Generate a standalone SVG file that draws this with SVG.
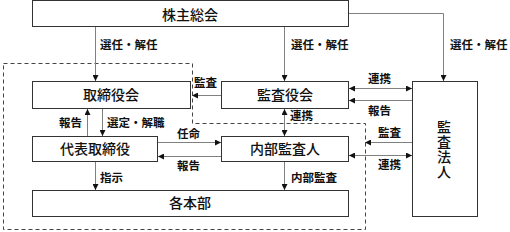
<svg xmlns="http://www.w3.org/2000/svg" width="510" height="232" viewBox="0 0 510 232">
<defs>
<style>
.box{fill:#fff;stroke:#333;stroke-width:1}
.bl{font-family:"Noto Sans CJK JP","Noto Sans CJK SC",sans-serif;font-size:14px;font-weight:500;fill:#111;text-anchor:middle}
.sl{font-family:"Noto Sans CJK JP","Noto Sans CJK SC",sans-serif;font-size:11.5px;font-weight:700;fill:#111}
.ln{fill:none;stroke:#808080;stroke-width:1}
.dash{fill:none;stroke:#444;stroke-width:1;stroke-dasharray:4 3}
</style>
<marker id="ah" viewBox="0 0 6 6" refX="6" refY="3" markerWidth="6" markerHeight="6" markerUnits="userSpaceOnUse" orient="auto-start-reverse">
<path d="M0,0 L6,3 L0,6 z" fill="#111"/>
</marker>
</defs>
<path class="dash" d="M3.5,63.5 H192.5 V123.5 H365.5 V229.5 H3.5 Z"/>
<g id="connectors">
<path class="ln" d="M95.5,27 V81" marker-end="url(#ah)"/>
<path class="ln" d="M284.5,27 V81" marker-end="url(#ah)"/>
<path class="ln" d="M349,13.5 H443.5 V81" marker-end="url(#ah)"/>
<path class="ln" d="M221,95.5 H192" marker-end="url(#ah)"/>
<path class="ln" d="M349,88.5 H412" marker-start="url(#ah)" marker-end="url(#ah)"/>
<path class="ln" d="M412,100.5 H349" marker-end="url(#ah)"/>
<path class="ln" d="M284.5,109 V136" marker-start="url(#ah)" marker-end="url(#ah)"/>
<path class="ln" d="M412,142.5 H365" marker-end="url(#ah)"/>
<path class="ln" d="M349,155.5 H412" marker-start="url(#ah)" marker-end="url(#ah)"/>
<path class="ln" d="M284.5,162 V190" marker-end="url(#ah)"/>
<path class="ln" d="M95.5,162 V190" marker-end="url(#ah)"/>
<path class="ln" d="M158,142.5 H221" marker-end="url(#ah)"/>
<path class="ln" d="M221,156.5 H158" marker-end="url(#ah)"/>
<path class="ln" d="M87.5,136 V109" marker-end="url(#ah)"/>
<path class="ln" d="M102.5,109 V136" marker-end="url(#ah)"/>
<text class="sl" x="100" y="49">選任・解任</text>
<text class="sl" x="291" y="49">選任・解任</text>
<text class="sl" x="450" y="49">選任・解任</text>
<text class="sl" x="194" y="87">監査</text>
<text class="sl" x="368" y="83">連携</text>
<text class="sl" x="368" y="115">報告</text>
<text class="sl" x="290" y="120">連携</text>
<text class="sl" x="378" y="137">監査</text>
<text class="sl" x="378" y="169">連携</text>
<text class="sl" x="291" y="182">内部監査</text>
<text class="sl" x="100" y="182">指示</text>
<text class="sl" x="177" y="138">任命</text>
<text class="sl" x="177" y="170">報告</text>
<text class="sl" x="59" y="127">報告</text>
<text class="sl" x="107" y="127">選定・解職</text>
</g>
<g id="kabunushi"><rect class="box" x="32.5" y="0.5" width="316" height="26"/><text class="bl" x="190" y="20">株主総会</text></g>
<g id="torishimariyakukai"><rect class="box" x="32.5" y="81.5" width="158" height="27"/><text class="bl" x="111" y="100">取締役会</text></g>
<g id="kansayakukai"><rect class="box" x="221.5" y="81.5" width="127" height="27"/><text class="bl" x="285" y="100">監査役会</text></g>
<g id="kansahojin"><rect class="box" x="412.5" y="81.5" width="65" height="135"/>
<text class="bl" x="444" y="150" style="writing-mode:vertical-rl;letter-spacing:1px">監査法人</text></g>
<g id="daihyo"><rect class="box" x="32.5" y="136.5" width="125" height="25"/><text class="bl" x="95" y="154">代表取締役</text></g>
<g id="naibu"><rect class="box" x="221.5" y="136.5" width="127" height="25"/><text class="bl" x="285" y="154">内部監査人</text></g>
<g id="kakuhonbu"><rect class="box" x="32.5" y="190.5" width="316" height="26"/><text class="bl" x="190" y="208">各本部</text></g>
</svg>
